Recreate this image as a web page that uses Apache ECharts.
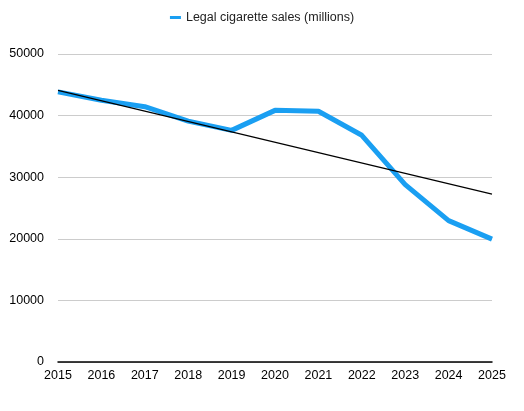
<!DOCTYPE html>
<html>
<head>
<meta charset="utf-8">
<script src="https://cdn.jsdelivr.net/npm/echarts@6/dist/echarts.min.js"></script>
<style>
  html, body { margin: 0; padding: 0; background: #fff; }
  #main { width: 524px; height: 411px; }
</style>
</head>
<body>
<div id="main"></div>
<script>
var years = ['2015', '2016', '2017', '2018', '2019', '2020', '2021', '2022', '2023', '2024', '2025']
var sales = [43850, 42500, 41450, 39100, 37600, 40850, 40700, 36800, 28800, 22950, 19950]
// trend line: only the two end points
var trend = [44100, null, null, null, null, null, null, null, null, null, 27250]

var myChart = echarts.init(document.getElementById('main'))
var option = {
  animation: false,
  textStyle: { fontFamily: 'Liberation Sans, Arial, sans-serif' },
  legend: {
    top: 6,
    left: 'center',
    itemWidth: 11,
    itemHeight: 3,
    icon: 'rect',
    data: ['Legal cigarette sales (millions)'],
    textStyle: { fontSize: 12.5, color: '#222' }
  },
  grid: { left: 58, right: 32, top: 54, bottom: 49 },
  xAxis: {
    type: 'category',
    data: years,
    boundaryGap: false,
    axisLine: { lineStyle: { color: '#000', width: 1.5 } },
    axisTick: { show: false },
    axisLabel: { color: '#000', fontSize: 12.5, margin: 7 }
  },
  yAxis: {
    type: 'value',
    min: 0,
    max: 50000,
    interval: 10000,
    axisLine: { show: false },
    axisTick: { show: false },
    axisLabel: {
      color: '#000',
      fontSize: 12.5,
      margin: 14,
      formatter: function (v) { return String(v) }
    },
    splitLine: { lineStyle: { color: '#cccccc', width: 1 } }
  },
  series: [
    {
      name: 'Legal cigarette sales (millions)',
      type: 'line',
      data: sales,
      symbol: 'none',
      lineStyle: { color: '#1a9ff2', width: 5 },
      itemStyle: { color: '#1a9ff2' }
    },
    {
      name: 'trend',
      type: 'line',
      data: trend,
      connectNulls: true,
      symbol: 'none',
      lineStyle: { color: '#000', width: 1.2 },
      z: 3
    }
  ]
}
myChart.setOption(option)
</script>
</body>
</html>
